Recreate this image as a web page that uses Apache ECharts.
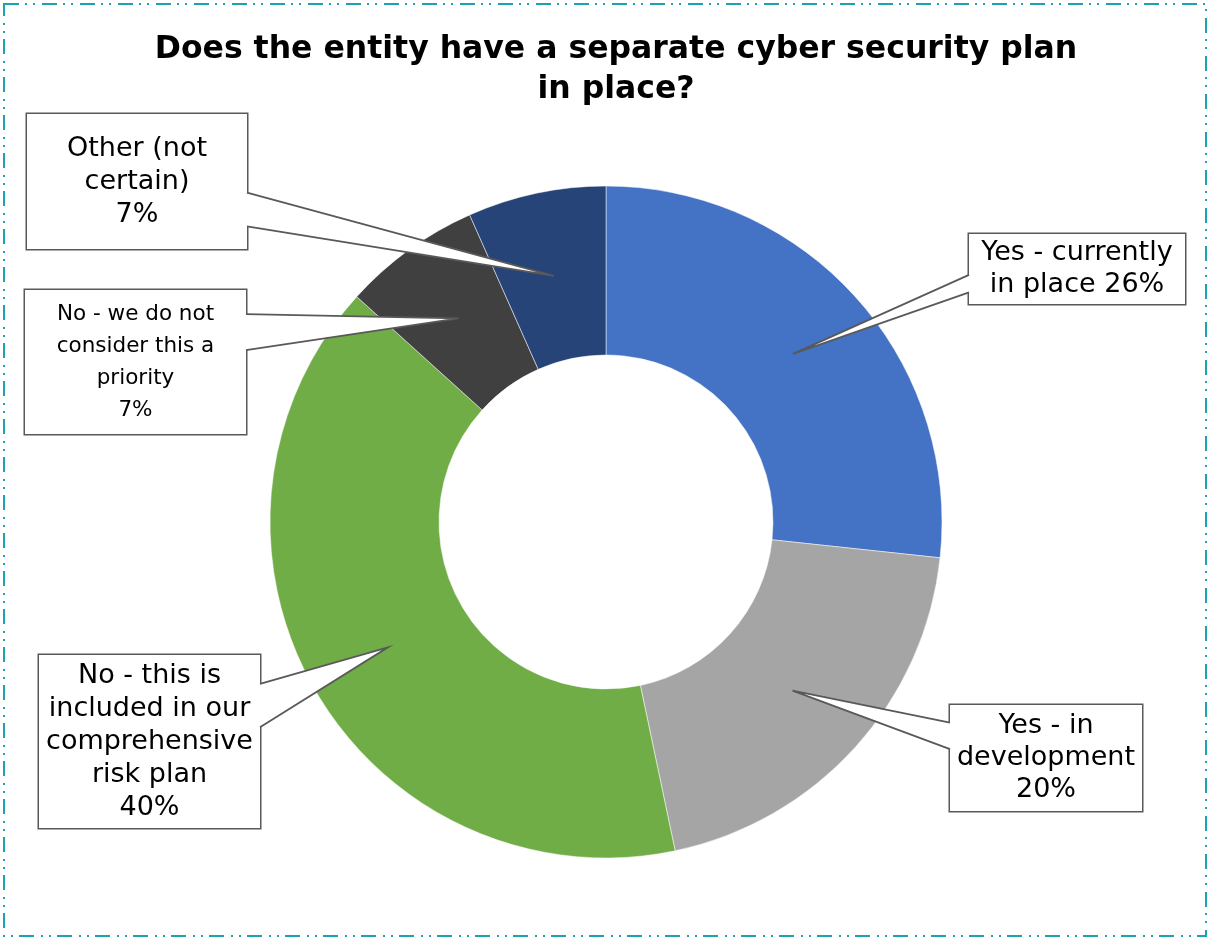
<!DOCTYPE html>
<html>
<head>
<meta charset="utf-8">
<script src="https://cdn.jsdelivr.net/npm/echarts@6/dist/echarts.min.js"></script>
<style>
  html, body { margin: 0; padding: 0; background: #fff; }
  #chart { width: 1210px; height: 939px; }
</style>
</head>
<body>
<div id="chart"></div>
<script>
// ---- data ----
const categories = [
  "Yes - currently in place",
  "Yes - in development",
  "No - this is included in our comprehensive risk plan",
  "No - we do not consider this a priority",
  "Other (not certain)"
];
// slice shares (percent)
const values = [26.7, 20.0, 40.0, 6.65, 6.65];
const labelTexts = [
  "Yes - currently\nin place 26%",
  "Yes - in\ndevelopment\n20%",
  "No - this is\nincluded in our\ncomprehensive\nrisk plan\n40%",
  "No - we do not\nconsider this a\npriority\n7%",
  "Other (not\ncertain)\n7%"
];
const titleText = "Does the entity have a separate cyber security plan\nin place?";

// ---- styles / layout ----
const colors = ["#4472C4", "#A5A5A5", "#70AD47", "#404040", "#264478"];
const center = [606, 522];
const radii = [167, 336];
// label boxes: left, top, width, height, fontSize, lineHeight, text shift down
const boxes = [
  [969, 234, 216, 70, 27, 32, 2],
  [950, 705, 192, 106, 27, 32, 1],
  [39, 655, 221, 173, 27, 33, 3],
  [25, 290, 221, 144, 21.5, 32, 1],
  [27, 114, 220, 135, 27, 33, 3]
];
const FONT = "'DejaVu Sans', Verdana, sans-serif";
const boxBorder = "#595959";

const total = values.reduce((a, b) => a + b, 0);

const data = values.map((v, i) => {
  const b = boxes[i];
  const nLines = labelTexts[i].split("\n").length;
  const padV = Math.max(0, (b[3] - nLines * b[5]) / 2);
  const s = Math.min(b[6], padV);
  return {
    name: categories[i],
    value: v,
    itemStyle: { color: colors[i] },
    label: {
      formatter: labelTexts[i],
      width: b[2],
      padding: [padV + s, 0, padV - s, 0],
      fontSize: b[4],
      lineHeight: b[5]
    }
  };
});

// wedge (callout pointer) graphics computed from slice geometry
const graphics = [];
let cum = 0;
values.forEach((v, i) => {
  const midFrac = (cum + v / 2) / total;
  cum += v;
  const theta = midFrac * 2 * Math.PI;
  const r = (radii[0] + radii[1]) / 2;
  const tip = [center[0] + r * Math.sin(theta), center[1] - r * Math.cos(theta)];
  const b = boxes[i];
  const left = b[0], top = b[1], w = b[2], h = b[3];
  const edgeX = tip[0] > left + w ? left + w : left;
  const inward = tip[0] > left + w ? -1.5 : 1.5;
  const below = tip[1] > top + h / 2;
  const y1 = below ? top + h * 0.583 : top + h * 0.167;
  const y2 = below ? top + h * 0.833 : top + h * 0.417;
  graphics.push({
    type: 'polygon', z: 100, silent: true,
    shape: { points: [[edgeX + inward, y1], tip, [edgeX + inward, y2]] },
    style: { fill: '#fff', stroke: null }
  });
  graphics.push({
    type: 'polyline', z: 101, silent: true,
    shape: { points: [[edgeX, y1], tip, [edgeX, y2]] },
    style: { stroke: boxBorder, lineWidth: 1.8, fill: null }
  });
});

// dash-dot frame
graphics.push({
  type: 'rect', z: 0, silent: true,
  shape: { x: 4, y: 4, width: 1202, height: 932 },
  style: { fill: null, stroke: '#1AA3B3', lineWidth: 2, lineDash: [15, 6, 2, 6, 2, 7] }
});

const chart = echarts.init(document.getElementById('chart'), null, { renderer: 'canvas' });
chart.setOption({
  animation: false,
  backgroundColor: '#fff',
  title: {
    text: titleText,
    left: 611,
    top: 25,
    textAlign: 'center',
    textStyle: {
      fontFamily: FONT,
      fontWeight: 'bold',
      fontSize: 31.5,
      lineHeight: 40,
      color: '#000'
    }
  },
  graphic: graphics,
  series: [{
    type: 'pie',
    center: center,
    radius: radii,
    startAngle: 90,
    clockwise: true,
    avoidLabelOverlap: false,
    itemStyle: { borderColor: '#fff', borderWidth: 0.5 },
    label: {
      show: true,
      position: 'outside',
      fontFamily: FONT,
      color: '#000',
      align: 'center',
      verticalAlign: 'middle',
      backgroundColor: '#fff',
      borderColor: boxBorder,
      borderWidth: 1.5,
      overflow: 'none'
    },
    labelLine: { show: false },
    labelLayout: function (params) {
      const b = boxes[params.dataIndex];
      return {
        x: b[0] + b[2] / 2,
        y: b[1] + b[3] / 2,
        align: 'center',
        verticalAlign: 'middle',
        hideOverlap: false
      };
    },
    emphasis: { disabled: true },
    data: data
  }]
});
</script>
</body>
</html>
